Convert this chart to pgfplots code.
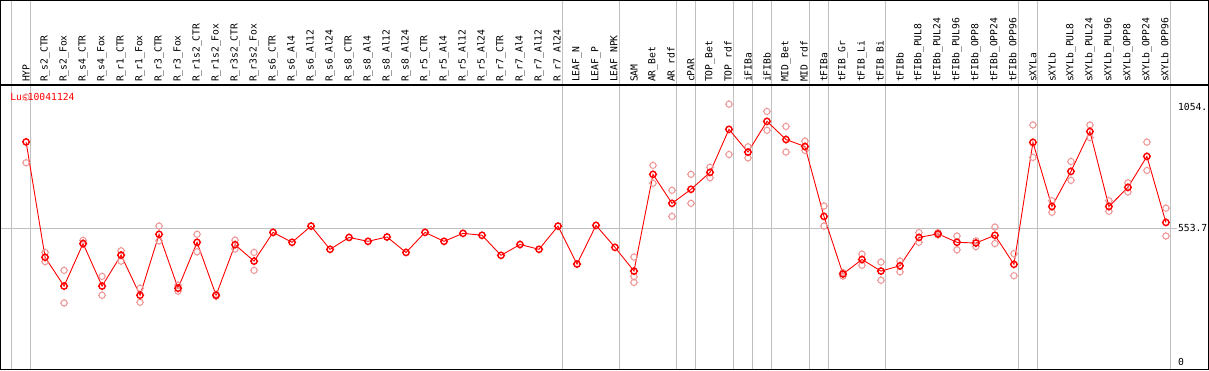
\documentclass[border=0pt]{standalone}
\usepackage{pgfplots}
\pgfplotsset{compat=1.18}
\usepackage{pgfplotstable}
\usepackage{fontspec}
\setmainfont{DejaVu Sans Mono}
\newcommand\lab{\fontsize{9.7bp}{11bp}\selectfont}
\definecolor{rep}{RGB}{238,150,150}
\definecolor{gridc}{RGB}{192,192,192}
\pgfdeclareplotmark{gear}{%
  \pgfpathcircle{\pgfpointorigin}{\pgfplotmarksize}%
  \pgfpathmoveto{\pgfqpoint{0pt}{\pgfplotmarksize}}\pgfpathlineto{\pgfqpoint{0pt}{1.3\pgfplotmarksize}}%
  \pgfpathmoveto{\pgfqpoint{0pt}{-\pgfplotmarksize}}\pgfpathlineto{\pgfqpoint{0pt}{-1.3\pgfplotmarksize}}%
  \pgfpathmoveto{\pgfqpoint{\pgfplotmarksize}{0pt}}\pgfpathlineto{\pgfqpoint{1.3\pgfplotmarksize}{0pt}}%
  \pgfpathmoveto{\pgfqpoint{-\pgfplotmarksize}{0pt}}\pgfpathlineto{\pgfqpoint{-1.3\pgfplotmarksize}{0pt}}%
  \pgfusepathqstroke}
\pgfplotstableread{
x y
0 910
1 433
2 314
3 490
4 314
5 442
6 276
7 528
8 305
9 495
10 276
11 485
12 417
13 536
14 495
15 562
16 466
17 515
18 499
19 517
20 453
21 536
22 499
23 532
24 524
25 441
26 486
27 466
28 562
29 405
30 565
31 474
32 376
33 776
34 656
35 714
36 784
37 962
38 868
39 995
40 920
41 891
42 602
43 364
44 424
45 376
46 398
47 515
48 530
49 495
50 492
51 524
52 404
53 908
54 643
55 788
56 953
57 643
58 722
59 850
60 577
}\maintab
\pgfplotstableread{
x y
0 1095
0 824
1 453
1 415
2 379
2 244
3 503
3 488
4 354
4 276
5 460
5 417
6 305
6 247
7 562
7 501
8 318
8 293
9 528
9 456
10 280
10 272
11 504
11 467
12 453
12 379
32 434
32 353
32 329
33 813
33 739
34 710
34 602
35 776
35 656
36 805
36 762
37 1066
37 858
38 890
38 844
39 1036
39 958
40 974
40 868
41 913
41 875
42 645
42 562
43 355
43 370
44 446
44 400
45 413
45 338
46 417
46 373
47 535
47 495
48 535
48 525
49 521
49 464
50 501
50 477
51 558
51 490
52 448
52 357
53 980
53 846
54 667
54 619
55 829
55 751
56 980
56 928
57 667
57 623
58 741
58 703
59 909
59 792
60 636
60 521
}\reptab
\begin{document}
\begin{tikzpicture}
\begin{axis}[
  width=1169.5bp, height=284.5bp, scale only axis,
  xmin=-1.3421, xmax=60.2105, ymin=-31.0, ymax=1144.9,
  axis line style={draw=none},
  tick style={draw=none}, major tick length=0pt,
  clip=false,
  xtick={0,...,60},
  xticklabels={HYP,R\_s2\_CTR,R\_s2\_Fox,R\_s4\_CTR,R\_s4\_Fox,R\_r1\_CTR,R\_r1\_Fox,R\_r3\_CTR,R\_r3\_Fox,R\_r1s2\_CTR,R\_r1s2\_Fox,R\_r3s2\_CTR,R\_r3s2\_Fox,R\_s6\_CTR,R\_s6\_Al4,R\_s6\_Al12,R\_s6\_Al24,R\_s8\_CTR,R\_s8\_Al4,R\_s8\_Al12,R\_s8\_Al24,R\_r5\_CTR,R\_r5\_Al4,R\_r5\_Al12,R\_r5\_Al24,R\_r7\_CTR,R\_r7\_Al4,R\_r7\_Al12,R\_r7\_Al24,LEAF\_N,LEAF\_P,LEAF\_NPK,SAM,AR\_Bet,AR\_rdf,cPAR,TOP\_Bet,TOP\_rdf,iFIBa,iFIBb,MID\_Bet,MID\_rdf,tFIBa,tFIB\_Gr,tFIB\_Li,tFIB\_Bi,tFIBb,tFIBb\_PUL8,tFIBb\_PUL24,tFIBb\_PUL96,tFIBb\_OPP8,tFIBb\_OPP24,tFIBb\_OPP96,sXYLa,sXYLb,sXYLb\_PUL8,sXYLb\_PUL24,sXYLb\_PUL96,sXYLb\_OPP8,sXYLb\_OPP24,sXYLb\_OPP96},
  xticklabel pos=upper,
  xticklabel shift=3bp,
  x tick label style={rotate=90, anchor=west, inner sep=0pt, font=\lab},
  ytick=\empty,
]
% grid lines
\pgfplotsinvokeforeach{-0.75,0.25,28.25,31.25,34.25,35.25,37.25,38.25,39.25,41.25,42.25,45.25,52.25,53.25,60.25}{
  \draw[gridc, line width=1bp] (axis cs:#1,-31.0) -- (axis cs:#1,1494.2);
}
\draw[gridc, line width=1bp] (axis cs:-1.3421,553.7) -- (axis cs:60.58,553.7);
% frame
\draw[black, line width=1.2bp] (axis cs:-1.3421,-31.0) rectangle (axis cs:62.237,1494.2);
\draw[black, line width=1.2bp] (axis cs:-1.3421,1144.9) -- (axis cs:62.237,1144.9);
% labels
\node[anchor=base west, inner sep=0pt, text=red, font=\lab] at (axis cs:-0.842,1083) {Lus10041124};
\node[anchor=west, inner sep=0pt, font=\lab] at (axis cs:60.63,1054) {1054.};
\node[anchor=west, inner sep=0pt, font=\lab] at (axis cs:60.63,553.7) {553.7};
\node[anchor=west, inner sep=0pt, font=\lab] at (axis cs:60.63,0) {0};
% data
\addplot[only marks, mark=gear, mark size=3.1bp, mark options={draw=rep, line width=1bp}] table {\reptab};
\addplot[red, line width=0.9bp, mark=gear, mark size=3.1bp, mark options={draw=red, line width=1.4bp, solid}] table {\maintab};
\end{axis}
\end{tikzpicture}
\end{document}
